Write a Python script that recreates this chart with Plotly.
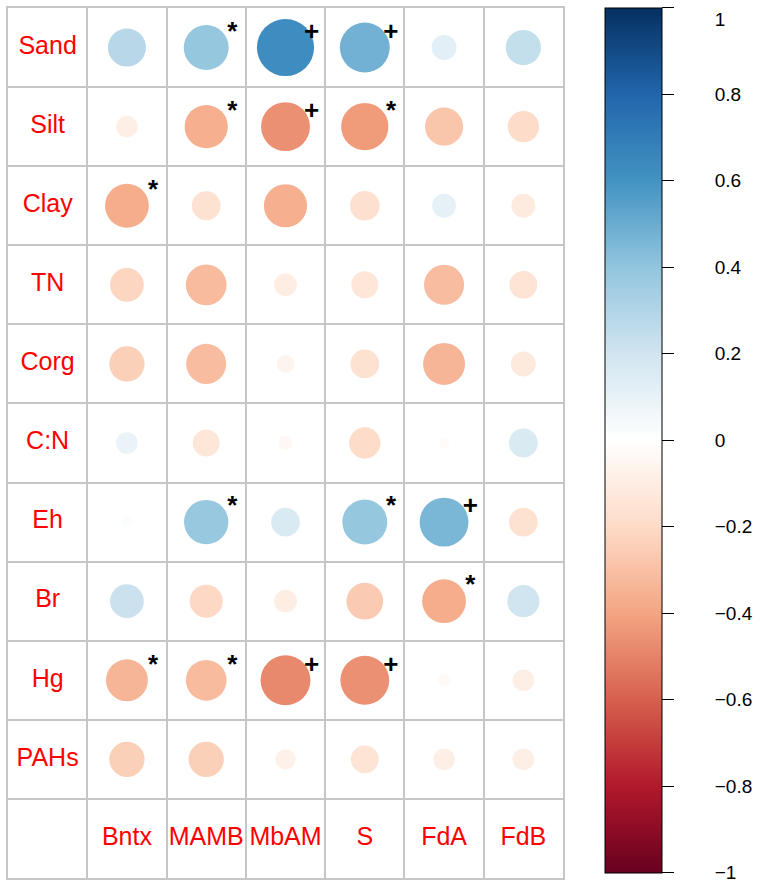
import numpy as np
import plotly.graph_objects as go

row_labels = ["Sand", "Silt", "Clay", "TN", "Corg", "C:N", "Eh", "Br", "Hg", "PAHs"]
col_labels = ["Bntx", "MAMB", "MbAM", "S", "FdA", "FdB"]

sand = [0.28, 0.39, 0.63, 0.48, 0.12, 0.24]
silt = [-0.09, -0.36, -0.46, -0.43, -0.28, -0.19]
clay = [-0.37, -0.16, -0.36, -0.17, 0.11, -0.11]
tn = [-0.22, -0.32, -0.10, -0.14, -0.31, -0.15]
corg = [-0.24, -0.31, -0.06, -0.16, -0.34, -0.12]
cn = [0.09, -0.14, -0.04, -0.19, -0.02, 0.16]
eh = [0.02, 0.38, 0.16, 0.39, 0.46, -0.16]
br = [0.22, -0.21, -0.10, -0.26, -0.37, 0.20]
hg = [-0.34, -0.32, -0.48, -0.46, -0.03, -0.09]
pahs = [-0.24, -0.24, -0.08, -0.15, -0.09, -0.09]

sig_sand = ["", "*", "+", "+", "", ""]
sig_silt = ["", "*", "+", "*", "", ""]
sig_clay = ["*", "", "", "", "", ""]
sig_tn = ["", "", "", "", "", ""]
sig_corg = ["", "", "", "", "", ""]
sig_cn = ["", "", "", "", "", ""]
sig_eh = ["", "*", "", "*", "+", ""]
sig_br = ["", "", "", "", "*", ""]
sig_hg = ["*", "*", "+", "+", "", ""]
sig_pahs = ["", "", "", "", "", ""]

cbar_ticks = [1, 0.8, 0.6, 0.4, 0.2, 0, -0.2, -0.4, -0.6, -0.8, -1]
rdbu = ["#67001F", "#B2182B", "#D6604D", "#F4A582", "#FDDBC7", "#FFFFFF",
        "#D1E5F0", "#92C5DE", "#4393C3", "#2166AC", "#053061"]

values = [sand, silt, clay, tn, corg, cn, eh, br, hg, pahs]
sigs = [sig_sand, sig_silt, sig_clay, sig_tn, sig_corg, sig_cn, sig_eh, sig_br, sig_hg, sig_pahs]

nrow = len(row_labels) + 1
ncol = len(col_labels) + 1

xs, ys, vs = [], [], []
sx, sy, st = [], [], []
for i, (vals, sg) in enumerate(zip(values, sigs)):
    yc = nrow - i - 0.5
    for j, (v, s) in enumerate(zip(vals, sg)):
        xc = j + 1.5
        xs.append(xc); ys.append(yc); vs.append(v)
        if s:
            sx.append(xc + 0.33); sy.append(yc + 0.18); st.append(s)

vs = np.array(vs)
sizes = 72 * np.sqrt(np.abs(vs))
colorscale = [[k / (len(rdbu) - 1), c] for k, c in enumerate(rdbu)]

pad = "\u00a0" * 7
tick_text = []
for t in cbar_ticks:
    lab = pad + ("\u2212" if t < 0 else "") + f"{abs(t):g}"
    if t == max(cbar_ticks):
        lab = "<br>" + lab  # keep the top label inside the page
    tick_text.append(lab)

FONT = "Liberation Sans, Arial, sans-serif"
fig = go.Figure()
fig.add_trace(go.Scatter(
    x=xs, y=ys, mode="markers",
    marker=dict(size=sizes, color=vs, colorscale=colorscale, cmin=-1, cmax=1,
                line=dict(width=0), opacity=1,
                showscale=True,
                colorbar=dict(
                    thickness=57, thicknessmode="pixels",
                    len=865, lenmode="pixels",
                    x=(605 - 8) / 555, xanchor="left", xpad=0,
                    y=(878 - 440) / 870, yanchor="middle", ypad=0,
                    outlinecolor="black", outlinewidth=1,
                    tickmode="array", tickvals=cbar_ticks, ticktext=tick_text,
                    ticks="outside", ticklen=12, tickcolor="black", tickwidth=1,
                    ticklabeloverflow="allow",
                    tickfont=dict(family=FONT, size=19, color="black"),
                )),
    hoverinfo="skip", showlegend=False))

# significance marks
fig.add_trace(go.Scatter(
    x=sx, y=sy, mode="text", text=st, textposition="middle center",
    textfont=dict(family=FONT, size=26, color="black"),
    texttemplate="<b>%{text}</b>",
    hoverinfo="skip", showlegend=False))

# row labels
fig.add_trace(go.Scatter(
    x=[0.5] * len(row_labels), y=[nrow - i - 0.5 for i in range(len(row_labels))],
    mode="text", text=row_labels, textposition="middle center",
    textfont=dict(family=FONT, size=25, color="#FF0000"),
    hoverinfo="skip", showlegend=False))

# column labels
fig.add_trace(go.Scatter(
    x=[j + 1.5 for j in range(len(col_labels))], y=[0.5] * len(col_labels),
    mode="text", text=col_labels, textposition="middle center",
    textfont=dict(family=FONT, size=25, color="#FF0000"),
    hoverinfo="skip", showlegend=False))

grid = dict(showgrid=True, gridcolor="#c6c6c6", gridwidth=1.5,
            showline=True, linecolor="#c6c6c6", linewidth=1.5, mirror=True,
            zeroline=False, showticklabels=False, ticks="", fixedrange=True)
fig.update_xaxes(range=[0, ncol], tickmode="array", tickvals=list(range(ncol + 1)), **grid)
fig.update_yaxes(range=[0, nrow], tickmode="array", tickvals=list(range(nrow + 1)), **grid)

fig.update_layout(
    width=764, height=884,
    margin=dict(l=8, r=201, t=8, b=6, autoexpand=False),
    plot_bgcolor="white", paper_bgcolor="white",
)
fig.write_html("out.html", config={"displayModeBar": False},
               post_script="document.body.style.margin='0';document.body.style.overflow='hidden';")
